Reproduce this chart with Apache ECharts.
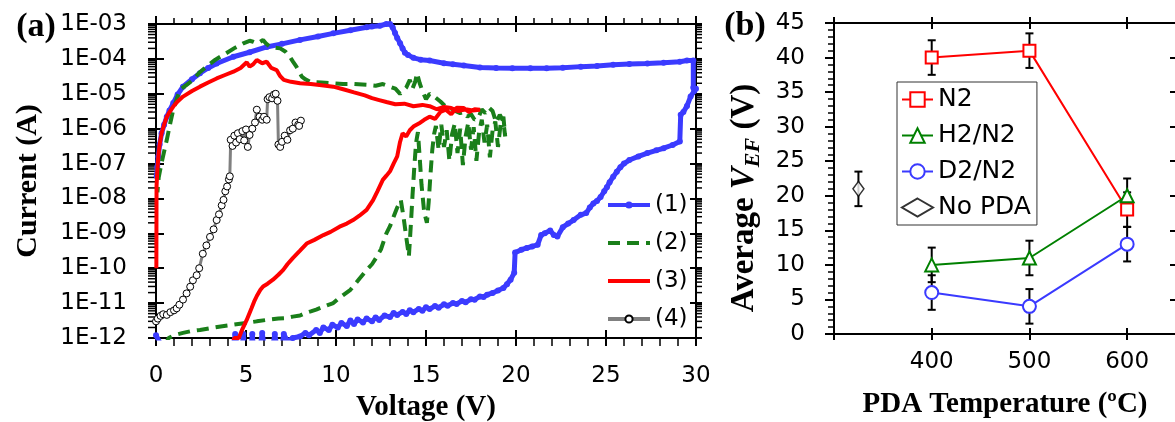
<!DOCTYPE html>
<html><head><meta charset="utf-8">
<script src="https://cdn.jsdelivr.net/npm/echarts@6/dist/echarts.min.js"></script>
<style>html,body{margin:0;padding:0;background:#fff}#c{width:1175px;height:422px}</style>
</head><body><div id="c"></div>
<script>
// ---------- Panel (a) data: [Voltage (V), Current (A)] ----------
const curve1 = [[0.0,1.2e-12],[0.3,6e-13],[4.3,6e-13],[4.4,1.3e-12],[4.5,6e-13],[4.8,6e-13],[4.85,1.3e-12],[4.9,6e-13],[5.3,6e-13],[5.35,1.3e-12],[5.4,6e-13],[5.8,6e-13],[5.9,1.4e-12],[6.0,6e-13],[6.5,6e-13],[6.6,1.3e-12],[6.7,6e-13],[7.0,6e-13],[7.1,1.3e-12],[7.3,8e-13],[7.6,1.0e-12],[8.0,1.1e-12],[8.3,1.4e-12],[8.5,1.2e-12],[8.9,1.7e-12],[9.1,1.4e-12],[9.3,2.0e-12],[9.6,1.7e-12],[9.8,2.4e-12],[10.1,2.0e-12],[10.3,2.7e-12],[10.6,2.2e-12],[10.8,3.2e-12],[11.0,2.5e-12],[11.2,3.4e-12],[11.5,2.8e-12],[11.7,3.6e-12],[12.0,3.0e-12],[12.2,3.9e-12],[12.4,3.3e-12],[12.7,4.4e-12],[13.0,4.0e-12],[13.2,5.2e-12],[13.4,4.6e-12],[13.7,5.6e-12],[13.9,4.9e-12],[14.1,6.2e-12],[14.3,5.5e-12],[14.6,6.8e-12],[14.8,6.0e-12],[15.0,7.6e-12],[15.2,6.8e-12],[15.5,8.2e-12],[15.7,7.4e-12],[16.0,9.2e-12],[16.2,8.4e-12],[16.5,1.0e-11],[16.7,9.5e-12],[17.0,1.15e-11],[17.2,1.05e-11],[17.5,1.3e-11],[17.7,1.25e-11],[18.0,1.55e-11],[18.2,1.5e-11],[18.4,1.75e-11],[18.7,1.95e-11],[19.0,2.3e-11],[19.3,2.7e-11],[19.5,3.5e-11],[19.7,4.7e-11],[19.9,7.4e-11],[19.95,2.8e-10],[20.3,3.4e-10],[20.6,3.8e-10],[20.9,4.2e-10],[21.2,4.7e-10],[21.4,9e-10],[21.6,1.0e-9],[21.9,1.2e-9],[22.1,9e-10],[22.3,8.1e-10],[22.6,1.5e-9],[22.9,1.9e-9],[23.2,2.4e-9],[23.6,3.4e-9],[23.9,3.8e-9],[24.1,5.5e-9],[24.3,7.2e-9],[24.5,8.5e-9],[24.7,1.1e-8],[24.9,1.6e-8],[25.05,2.1e-8],[25.2,2.9e-8],[25.4,4.2e-8],[25.6,5.8e-8],[25.8,7.9e-8],[26.0,1.0e-7],[26.3,1.26e-7],[26.8,1.6e-7],[27.3,2.0e-7],[27.8,2.4e-7],[28.2,2.75e-7],[28.7,3.4e-7],[29.1,4.3e-7],[29.15,2.5e-6],[29.3,3.0e-6],[29.5,4.5e-6],[29.7,8.3e-6],[29.9,1.2e-5],[30.0,1.4e-5],[29.85,1.5e-5],[29.85,9.0e-5],[29.5,9.0e-5],[29.1,8.3e-5],[28.2,7.8e-5],[27.3,7.4e-5],[26.3,7.1e-5],[25.4,6.8e-5],[24.5,6.3e-5],[23.6,6.0e-5],[22.6,5.6e-5],[21.7,5.4e-5],[20.8,5.4e-5],[19.8,5.4e-5],[18.9,5.5e-5],[18.0,5.7e-5],[17.1,6.5e-5],[16.5,7.0e-5],[16.0,7.5e-5],[15.2,9.0e-5],[14.7,9.5e-5],[14.3,1.07e-4],[14.0,1.3e-4],[13.83,1.5e-4],[13.7,2.0e-4],[13.56,2.8e-4],[13.4,4.0e-4],[13.28,5.5e-4],[13.15,8.0e-4],[13.0,1.0e-3],[12.8,1.0e-3],[12.44,8.9e-4],[12.0,8.5e-4],[11.7,8.1e-4],[10.8,6.6e-4],[9.85,5.4e-4],[9.0,4.4e-4],[8.0,3.5e-4],[7.0,2.7e-4],[6.15,2.2e-4],[5.2,1.55e-4],[4.3,1.15e-4],[3.37,7.4e-5],[2.9,5.5e-5],[2.44,3.9e-5],[2.0,2.6e-5],[1.5,1.6e-5],[1.2,9.5e-6],[0.96,5.4e-6],[0.75,3.3e-6],[0.6,2.2e-6],[0.45,1.3e-6],[0.31,7.4e-7],[0.2,3.5e-7],[0.13,1.6e-7],[0.07,8e-8],[0.04,4.3e-8]];

const curve2 = [[0.5,6e-13],[0.7,1.0e-12],[1.0,1.2e-12],[1.5,1.4e-12],[2.0,1.6e-12],[2.44,1.7e-12],[3.0,1.9e-12],[3.5,2.1e-12],[4.3,2.4e-12],[5.0,2.7e-12],[5.6,3.0e-12],[6.15,3.3e-12],[6.8,3.6e-12],[7.2,3.7e-12],[7.6,4.1e-12],[8.0,4.4e-12],[8.3,5.2e-12],[8.6,5.8e-12],[8.9,6.5e-12],[9.2,7.5e-12],[9.5,8.6e-12],[9.85,1.0e-11],[10.1,1.3e-11],[10.4,1.7e-11],[10.8,2.4e-11],[11.0,3.2e-11],[11.3,5.0e-11],[11.7,8.9e-11],[12.0,1.3e-10],[12.26,2.1e-10],[12.5,3.5e-10],[12.8,1.0e-9],[13.0,1.6e-9],[13.2,3.0e-9],[13.4,5.5e-9],[13.6,9e-9],[13.75,3e-9],[13.9,8e-10],[14.05,2.2e-10],[14.15,1.5e-9],[14.25,1.2e-8],[14.35,8e-8],[14.45,4e-7],[14.55,8e-7],[14.65,1.5e-7],[14.75,2.5e-8],[14.9,4e-9],[15.05,2e-9],[15.15,8e-9],[15.25,5e-8],[15.35,2.5e-7],[15.45,7e-7],[15.55,1.2e-6],[15.7,2.5e-7],[15.85,1.3e-6],[16.0,3e-7],[16.15,9e-7],[16.3,1.2e-7],[16.45,7e-7],[16.6,1.4e-6],[16.75,2.0e-7],[16.9,1.0e-6],[17.05,9e-8],[17.2,6e-7],[17.35,1.5e-6],[17.5,2.5e-7],[17.65,1.1e-6],[17.8,1.2e-7],[17.95,8e-7],[18.1,1.8e-6],[18.25,4e-7],[18.4,1.3e-6],[18.55,1.5e-7],[18.7,9e-7],[18.85,1.6e-6],[19.0,3e-7],[19.15,1.4e-6],[19.3,2.2e-6],[19.4,6e-7],[19.3,1.6e-6],[19.1,2.5e-6],[18.9,1.5e-6],[18.7,3.2e-6],[18.5,4.0e-6],[18.3,2.8e-6],[18.1,3.6e-6],[17.9,2.0e-6],[17.7,1.8e-6],[17.5,2.6e-6],[17.3,2.2e-6],[17.1,3.0e-6],[16.9,2.8e-6],[16.6,3.3e-6],[16.3,4.0e-6],[16.1,4.3e-6],[15.8,6e-6],[15.5,8e-6],[15.2,1.0e-5],[15.0,7e-6],[14.8,1.2e-5],[14.65,2e-5],[14.5,3.9e-5],[14.4,2.2e-5],[14.25,1.4e-5],[14.1,2.5e-5],[13.9,1.5e-5],[13.56,1.0e-5],[13.3,1.4e-5],[13.0,1.6e-5],[12.6,1.9e-5],[12.2,1.7e-5],[11.7,1.8e-5],[11.0,1.9e-5],[10.4,1.9e-5],[9.85,2.0e-5],[9.2,2.1e-5],[8.56,2.2e-5],[8.3,2.6e-5],[8.1,3.1e-5],[7.8,6e-5],[7.6,8.5e-5],[7.44,1.15e-4],[7.2,1.6e-4],[6.9,2.0e-4],[6.6,2.1e-4],[6.33,2.2e-4],[6.1,2.8e-4],[5.95,3.5e-4],[5.75,3.0e-4],[5.6,2.8e-4],[5.4,3.1e-4],[5.2,3.3e-4],[4.85,2.8e-4],[4.4,2.1e-4],[3.9,1.45e-4],[3.3,9.5e-5],[2.8,6.0e-5],[2.4,4.0e-5],[2.06,2.5e-5],[1.7,1.8e-5],[1.33,1.3e-5],[1.15,7e-6],[0.96,3.5e-6],[0.8,1.5e-6],[0.6,4.8e-7],[0.45,2.2e-7],[0.3,1.0e-7],[0.15,4e-8],[0.08,1.5e-8]];

const curve3 = [[4.2,5e-13],[4.35,1.0e-12],[4.6,1.0e-12],[4.8,1.8e-12],[5.04,3.3e-12],[5.3,7e-12],[5.45,1.1e-11],[5.6,1.6e-11],[5.8,2.4e-11],[5.95,3.0e-11],[6.2,3.6e-11],[6.5,4.7e-11],[6.8,6.5e-11],[7.07,9e-11],[7.3,1.3e-10],[7.6,1.95e-10],[8.0,3.2e-10],[8.37,5.1e-10],[8.8,6.5e-10],[9.3,8.9e-10],[9.7,1.1e-9],[10.2,1.55e-9],[10.6,1.9e-9],[10.95,2.4e-9],[11.3,3.2e-9],[11.7,4.7e-9],[12.06,9e-9],[12.3,1.6e-8],[12.6,3.4e-8],[12.8,4.5e-8],[13.0,6e-8],[13.2,1.0e-7],[13.4,1.6e-7],[13.55,4e-7],[13.7,7.4e-7],[13.9,6e-7],[14.1,9e-7],[14.3,1.15e-6],[14.6,1.4e-6],[14.9,1.8e-6],[15.2,2.2e-6],[15.5,1.9e-6],[15.8,3.0e-6],[16.1,3.5e-6],[16.4,2.6e-6],[16.7,4.0e-6],[17.1,3.9e-6],[17.4,3.0e-6],[17.7,3.6e-6],[18.0,3.5e-6],[17.6,3.3e-6],[17.2,3.6e-6],[16.8,3.2e-6],[16.4,3.9e-6],[16.0,4.2e-6],[15.6,3.6e-6],[15.2,4.4e-6],[14.8,4.8e-6],[14.3,4.4e-6],[13.8,5.2e-6],[13.3,5.0e-6],[12.8,5.8e-6],[12.4,6.6e-6],[12.0,7.5e-6],[11.6,9e-6],[11.0,1.1e-5],[10.4,1.35e-5],[9.85,1.6e-5],[9.2,1.75e-5],[8.6,1.9e-5],[8.0,2.0e-5],[7.5,2.2e-5],[7.1,2.5e-5],[6.9,3.2e-5],[6.7,4.8e-5],[6.4,5.5e-5],[6.15,8.3e-5],[5.9,7.5e-5],[5.6,9.3e-5],[5.4,7.0e-5],[5.2,6.0e-5],[5.04,8.0e-5],[4.7,5.5e-5],[4.3,4.3e-5],[3.8,3.4e-5],[3.37,2.75e-5],[2.9,2.1e-5],[2.44,1.6e-5],[2.0,1.2e-5],[1.5,8.3e-6],[1.2,6e-6],[0.96,4.3e-6],[0.75,3.0e-6],[0.6,2.2e-6],[0.45,1.3e-6],[0.31,7.4e-7],[0.2,3.5e-7],[0.13,1.6e-7],[0.07,6e-8],[0.03,2.2e-8],[0.02,1.0e-10]];

const curve4 = [[0.0,3.0e-12],[0.1,3.6e-12],[0.25,4.3e-12],[0.4,4.8e-12],[0.6,4.6e-12],[0.8,5.5e-12],[1.0,6.2e-12],[1.15,7.1e-12],[1.3,9e-12],[1.5,1.26e-11],[1.7,1.9e-11],[1.9,2.95e-11],[2.05,4.5e-11],[2.26,6.3e-11],[2.4,1.0e-10],[2.6,2.6e-10],[2.8,4.5e-10],[3.0,7.9e-10],[3.2,1.3e-9],[3.37,2.4e-9],[3.5,3.5e-9],[3.65,6.3e-9],[3.75,9.1e-9],[3.85,1.6e-8],[3.95,2.2e-8],[4.05,3.5e-8],[4.1,4.3e-8],[4.15,4.8e-7],[4.25,3.2e-7],[4.35,6.3e-7],[4.45,4.0e-7],[4.55,7.4e-7],[4.65,5.0e-7],[4.8,8.5e-7],[4.9,4.6e-7],[5.0,9.5e-7],[5.1,3.0e-7],[5.2,6.6e-7],[5.35,1.0e-6],[5.5,1.5e-6],[5.6,3.5e-6],[5.75,2.2e-6],[5.9,1.8e-6],[6.0,2.2e-6],[6.15,1.8e-6],[6.2,7.0e-6],[6.3,8e-6],[6.45,7.4e-6],[6.55,9.5e-6],[6.65,1.0e-5],[6.75,6.3e-6],[6.8,3.5e-7],[6.9,3.0e-7],[7.0,4.2e-7],[7.15,6.3e-7],[7.3,4.8e-7],[7.45,9e-7],[7.6,1.0e-6],[7.75,1.5e-6],[7.9,1.3e-6],[8.05,1.7e-6],[7.95,1.2e-6]];

const curveNames = ['(1)', '(2)', '(3)', '(4)'];
const logMinorMultipliers = [2, 3, 4, 5, 6, 7, 8, 9];
const logDecades = [-12, -11, -10, -9, -8, -7, -6, -5, -4];

// ---------- Panel (b) data ----------
const pdaTemps = [400, 500, 600];
const vefN2 = [40, 41, 18];
const vefH2N2 = [10, 11, 20];
const vefD2N2 = [6, 4, 13];
const errN2 = [2.5, 2.5, 2.5];
const errH2N2 = [2.5, 2.5, 2.5];
const errD2N2 = [2.5, 2.5, 2.5];
const noPdaTemp = [325];
const noPdaVef = [21];
const noPdaErr = [2.5];
const groupNames = ['N2', 'H2/N2', 'D2/N2', 'No PDA'];
const tempTickLabels = [400, 500, 600];

const SANS = "'DejaVu Sans', sans-serif";
const SERIF = "'Liberation Serif', 'Times New Roman', serif";
const BLACK = '#000';

const logMinorTicks = [];
logDecades.forEach(d => logMinorMultipliers.forEach(m => logMinorTicks.push([0, m * Math.pow(10, d)])));

function errData(xs, ys, es) { return xs.map((x, i) => [x, ys[i] - es[i], ys[i] + es[i]]); }
const errorBars = [].concat(errData(pdaTemps, vefN2, errN2), errData(pdaTemps, vefH2N2, errH2N2),
  errData(pdaTemps, vefD2N2, errD2N2), errData(noPdaTemp, noPdaVef, noPdaErr));

const chart = echarts.init(document.getElementById('c'), null, { renderer: 'canvas' });

const lbl = { color: BLACK, fontFamily: SANS, fontSize: 23 };
const axLine = { show: true, onZero: false, lineStyle: { color: BLACK, width: 2 } };
const noLine = { show: false, onZero: false };
const tickStyle = { color: BLACK, width: 2 };

function xa(grid, pos, min, max, interval, extra) {
  return Object.assign({ type: 'value', gridIndex: grid, position: pos, min, max, interval,
    splitLine: { show: false }, axisLabel: { show: false }, axisLine: noLine,
    axisTick: { show: false }, minorTick: { show: false } }, extra);
}
function ya(grid, pos, extra) {
  return Object.assign({ gridIndex: grid, position: pos, splitLine: { show: false },
    axisLabel: { show: false }, axisLine: noLine, axisTick: { show: false },
    minorTick: { show: false } }, extra);
}
const logCfg = { type: 'log', logBase: 10, min: 1e-12, max: 1e-3, splitNumber: 9 };
const vefCfg = { type: 'value', min: 0, max: 45, interval: 5 };
const noSymbol = { color: 'rgba(0,0,0,0)', borderWidth: 0, opacity: 0 };

const option = {
  animation: false,
  backgroundColor: '#fff',
  grid: [
    { left: 156, top: 24, width: 540, height: 314, outerBoundsMode: 'none', containLabel: false },
    { left: 834, top: 23, width: 342, height: 311, outerBoundsMode: 'none', containLabel: false }
  ],
  xAxis: [
    xa(0, 'bottom', 0, 30, 5, { axisLine: axLine,
      axisLabel: Object.assign({ show: true, margin: 27 }, lbl),
      axisTick: { show: true, inside: false, length: 8, lineStyle: tickStyle },
      minorTick: { show: true, splitNumber: 5, length: 8, lineStyle: { color: BLACK, width: 1.5 } },
      name: 'Voltage (V)', nameLocation: 'middle', nameGap: 52,
      nameTextStyle: { fontFamily: SERIF, fontWeight: 'bold', fontSize: 29, color: BLACK } }),
    xa(0, 'bottom', 0, 30, 5, { axisTick: { show: true, inside: true, length: 8, lineStyle: tickStyle } }),
    xa(0, 'top', 0, 30, 5, { axisLine: axLine,
      axisTick: { show: true, inside: false, length: 8, lineStyle: tickStyle },
      minorTick: { show: true, splitNumber: 5, length: 6, lineStyle: { color: BLACK, width: 1.5 } } }),
    xa(0, 'top', 0, 30, 5, { axisTick: { show: true, inside: true, length: 8, lineStyle: tickStyle } }),
    xa(1, 'bottom', 300, 650, 100, { axisLine: axLine,
      axisLabel: Object.assign({ show: true, margin: 17,
        formatter: v => tempTickLabels.indexOf(v) >= 0 ? String(v) : '' }, lbl),
      axisTick: { show: true, inside: false, length: 6, lineStyle: tickStyle },
      name: 'PDA Temperature (ºC)', nameLocation: 'middle', nameGap: 56,
      nameTextStyle: { fontFamily: SERIF, fontWeight: 'bold', fontSize: 29, color: BLACK } }),
    xa(1, 'bottom', 300, 650, 100, { axisTick: { show: true, inside: true, length: 6, lineStyle: tickStyle } }),
    xa(1, 'top', 300, 650, 100, { axisLine: axLine,
      axisTick: { show: true, inside: false, length: 6, lineStyle: tickStyle } }),
    xa(1, 'top', 300, 650, 100, { axisTick: { show: true, inside: true, length: 6, lineStyle: tickStyle } })
  ],
  yAxis: [
    ya(0, 'left', Object.assign({}, logCfg, { axisLine: axLine,
      axisLabel: Object.assign({ show: true, margin: 29,
        formatter: v => { const e = Math.round(Math.log10(v)); return '1E' + (e < 0 ? '-' : '+') + String(Math.abs(e)).padStart(2, '0'); } }, lbl),
      axisTick: { show: true, inside: false, length: 8, lineStyle: tickStyle } })),
    ya(0, 'left', Object.assign({}, logCfg, { axisTick: { show: true, inside: true, length: 8, lineStyle: tickStyle } })),
    ya(0, 'right', Object.assign({}, logCfg, { axisLine: axLine,
      axisTick: { show: true, inside: false, length: 6, lineStyle: tickStyle } })),
    ya(0, 'right', Object.assign({}, logCfg, { axisTick: { show: true, inside: true, length: 6, lineStyle: tickStyle } })),
    ya(1, 'left', Object.assign({}, vefCfg, { axisLine: axLine,
      axisLabel: Object.assign({ show: true, margin: 29 }, lbl),
      axisTick: { show: true, inside: false, length: 9, lineStyle: tickStyle },
      minorTick: { show: true, splitNumber: 5, length: 6, lineStyle: { color: BLACK, width: 1.5 } } })),
    ya(1, 'right', Object.assign({}, vefCfg, { axisLine: axLine,
      axisTick: { show: true, inside: true, length: 6, lineStyle: tickStyle } }))
  ],
  legend: [
    { data: [ { name: curveNames[0] }, { name: curveNames[1], itemStyle: noSymbol },
              { name: curveNames[2], itemStyle: noSymbol }, { name: curveNames[3] } ],
      orient: 'vertical', left: 606, top: 193, itemWidth: 42, itemHeight: 9,
      itemGap: 14, padding: 0, selectedMode: false,
      textStyle: { fontFamily: SANS, fontSize: 23, color: BLACK, lineHeight: 24 },
      lineStyle: { width: 4 } },
    { data: groupNames, orient: 'vertical', left: 897, top: 82, itemWidth: 31, itemHeight: 18,
      itemGap: 11, padding: [5, 6, 5, 4], selectedMode: false, backgroundColor: '#fff',
      borderColor: '#333', borderWidth: 1, borderRadius: 0,
      textStyle: { fontFamily: SANS, fontSize: 25, color: BLACK, lineHeight: 24 },
      lineStyle: { width: 2 } }
  ],
  graphic: [
    { type: 'text', x: 36, y: 27, style: { text: '(a)', font: 'bold 34px ' + SERIF, fill: BLACK, align: 'center', verticalAlign: 'middle' } },
    { type: 'text', x: 745, y: 26, style: { text: '(b)', font: 'bold 34px ' + SERIF, fill: BLACK, align: 'center', verticalAlign: 'middle' } },
    { type: 'text', x: 28, y: 181, rotation: Math.PI / 2, style: { text: 'Current (A)', font: 'bold 30px ' + SERIF, fill: BLACK, align: 'center', verticalAlign: 'middle' } },
    { type: 'text', x: 746, y: 198, rotation: Math.PI / 2, style: {
      text: '{a|Average }{v|V}{s|EF}{a| (V)}', align: 'center', verticalAlign: 'middle', fill: BLACK,
      rich: {
        a: { font: 'bold 33px ' + SERIF, fill: BLACK, verticalAlign: 'top', lineHeight: 33 },
        v: { font: 'italic bold 33px ' + SERIF, fill: BLACK, verticalAlign: 'top', lineHeight: 33 },
        s: { font: 'italic bold 22px ' + SERIF, fill: BLACK, verticalAlign: 'top', padding: [15, 0, 0, 0] }
      } } }
  ],
  series: [
    { type: 'custom', name: 'logMinor', xAxisIndex: 0, yAxisIndex: 0, silent: true, z: 1, data: logMinorTicks,
      renderItem: (p, api) => {
        const v = api.value(1); const pl = api.coord([0, v]); const pr = api.coord([30, v]);
        return { type: 'group', children: [
          { type: 'line', shape: { x1: pl[0] - 8, y1: pl[1], x2: pl[0], y2: pl[1] }, style: { stroke: BLACK, lineWidth: 1.5 } },
          { type: 'line', shape: { x1: pr[0], y1: pr[1], x2: pr[0] + 6, y2: pr[1] }, style: { stroke: BLACK, lineWidth: 1.5 } }
        ] };
      } },
    { type: 'line', name: curveNames[0], xAxisIndex: 0, yAxisIndex: 0, data: curve1, z: 2,
      symbol: 'circle', symbolSize: 6, showAllSymbol: true, color: '#3B3BFF',
      lineStyle: { width: 5, color: '#3B3BFF' }, itemStyle: { color: '#3B3BFF' } },
    { type: 'line', name: curveNames[1], xAxisIndex: 0, yAxisIndex: 0, data: curve2, z: 3,
      symbol: 'none', color: '#1A7F1A', lineStyle: { width: 4, color: '#1A7F1A', type: [12, 7] } },
    { type: 'line', name: curveNames[2], xAxisIndex: 0, yAxisIndex: 0, data: curve3, z: 4,
      symbol: 'none', color: '#FF0000', lineStyle: { width: 4, color: '#FF0000' } },
    { type: 'line', name: curveNames[3], xAxisIndex: 0, yAxisIndex: 0, data: curve4, z: 5,
      symbol: 'circle', symbolSize: 7, showAllSymbol: true, color: '#808080',
      lineStyle: { width: 3, color: '#808080' }, itemStyle: { color: '#fff', borderColor: BLACK, borderWidth: 1 } },

    { type: 'custom', name: 'errorBars', xAxisIndex: 4, yAxisIndex: 4, silent: true, z: 2, data: errorBars,
      encode: { x: 0, y: [1, 2] },
      renderItem: (p, api) => {
        const x = api.value(0); const lo = api.coord([x, api.value(1)]); const hi = api.coord([x, api.value(2)]);
        const cw = 4; const st = { stroke: BLACK, lineWidth: 2 };
        return { type: 'group', children: [
          { type: 'line', shape: { x1: lo[0], y1: lo[1], x2: hi[0], y2: hi[1] }, style: st },
          { type: 'line', shape: { x1: lo[0] - cw, y1: lo[1], x2: lo[0] + cw, y2: lo[1] }, style: st },
          { type: 'line', shape: { x1: hi[0] - cw, y1: hi[1], x2: hi[0] + cw, y2: hi[1] }, style: st }
        ] };
      } },
    { type: 'line', name: groupNames[0], xAxisIndex: 4, yAxisIndex: 4, z: 3,
      data: pdaTemps.map((t, i) => [t, vefN2[i]]), symbol: 'rect', symbolSize: 12,
      lineStyle: { color: '#FF0000', width: 2 }, itemStyle: { color: '#fff', borderColor: '#FF0000', borderWidth: 2 } },
    { type: 'line', name: groupNames[1], xAxisIndex: 4, yAxisIndex: 4, z: 3,
      data: pdaTemps.map((t, i) => [t, vefH2N2[i]]), symbol: 'triangle', symbolSize: 13,
      lineStyle: { color: '#008000', width: 2 }, itemStyle: { color: '#fff', borderColor: '#008000', borderWidth: 2 } },
    { type: 'line', name: groupNames[2], xAxisIndex: 4, yAxisIndex: 4, z: 3,
      data: pdaTemps.map((t, i) => [t, vefD2N2[i]]), symbol: 'circle', symbolSize: 13,
      lineStyle: { color: '#3A3AFF', width: 2 }, itemStyle: { color: '#fff', borderColor: '#3A3AFF', borderWidth: 2 } },
    { type: 'scatter', name: groupNames[3], xAxisIndex: 4, yAxisIndex: 4, z: 3,
      data: noPdaTemp.map((t, i) => [t, noPdaVef[i]]), symbol: 'diamond', symbolSize: [11, 15],
      itemStyle: { color: '#fff', borderColor: BLACK, borderWidth: 1.5 } }
  ]
};
chart.setOption(option);
</script></body></html>
